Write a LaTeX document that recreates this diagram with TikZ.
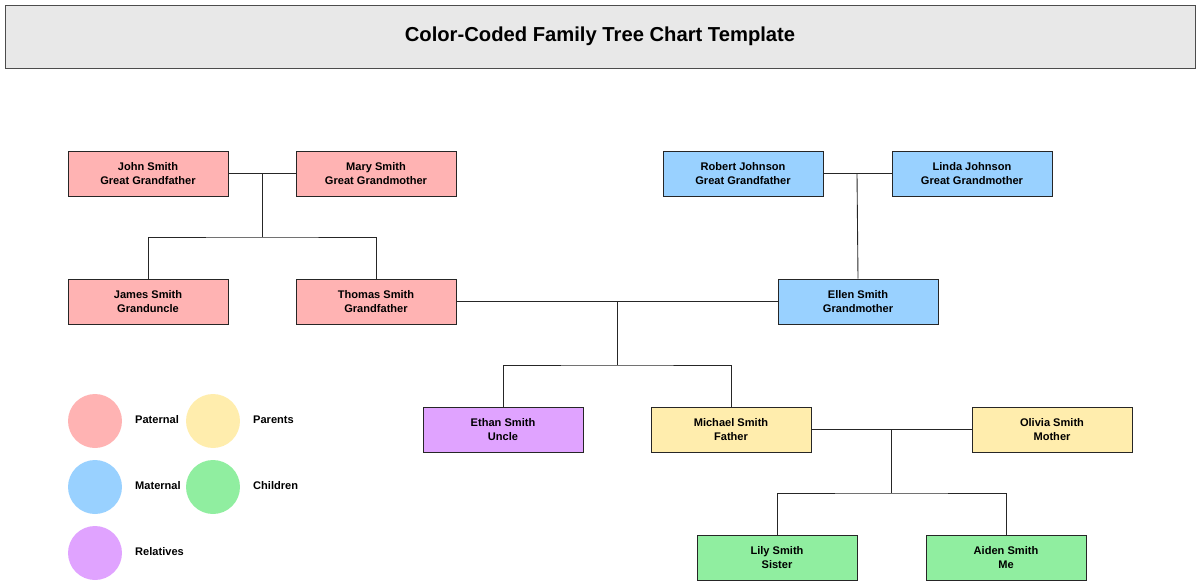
\documentclass[tikz,border=0pt]{standalone}
\usepackage{fontspec}
\setmainfont{Liberation Sans}
\definecolor{pat}{HTML}{FFB3B3}
\definecolor{mat}{HTML}{99D1FF}
\definecolor{rel}{HTML}{E0A3FF}
\definecolor{par}{HTML}{FFEDAD}
\definecolor{chi}{HTML}{90EEA0}
\definecolor{ttl}{HTML}{E8E8E8}
\begin{document}
\begin{tikzpicture}[x=0.02cm,y=-0.02cm,
  person/.style={draw=black!85,line width=0.5pt,minimum width=3.2cm,minimum height=0.9cm,align=center,font=\fontsize{6.3}{7.6}\selectfont\bfseries,inner sep=0pt},
  dot/.style={circle,minimum size=1.08cm,inner sep=0pt},
  lbl/.style={anchor=west,font=\fontsize{6.3}{7.6}\selectfont\bfseries},
  link/.style={draw=black!85,line width=0.5pt}]
\useasboundingbox (0,0) rectangle (1200,585);
\node[draw=black!70,fill=ttl,minimum width=23.8cm,minimum height=1.26cm,font=\fontsize{11.5}{13}\selectfont\bfseries,inner sep=0pt] (title) at (600,36.5) {Color-Coded Family Tree Chart Template};
\node[person,fill=pat] (john) at (148,173.5) {John Smith\\Great Grandfather};
\node[person,fill=pat] (mary) at (376,173.5) {Mary Smith\\Great Grandmother};
\node[person,fill=mat] (robert) at (743,173.5) {Robert Johnson\\Great Grandfather};
\node[person,fill=mat] (linda) at (972,173.5) {Linda Johnson\\Great Grandmother};
\node[person,fill=pat] (james) at (148,301.5) {James Smith\\Granduncle};
\node[person,fill=pat] (thomas) at (376,301.5) {Thomas Smith\\Grandfather};
\node[person,fill=mat] (ellen) at (858,301.5) {Ellen Smith\\Grandmother};
\node[person,fill=rel] (ethan) at (503,429.5) {Ethan Smith\\Uncle};
\node[person,fill=par] (michael) at (731,429.5) {Michael Smith\\Father};
\node[person,fill=par] (olivia) at (1052,429.5) {Olivia Smith\\Mother};
\node[person,fill=chi] (lily) at (777,557.5) {Lily Smith\\Sister};
\node[person,fill=chi] (aiden) at (1006,557.5) {Aiden Smith\\Me};
% junctions
\coordinate (j1) at (262,173.5); \coordinate (j1b) at (262,237);
\coordinate (j2) at (857,173.5);
\coordinate (j3) at (617,301.5); \coordinate (j3b) at (617,365);
\coordinate (j4) at (891,429.5); \coordinate (j4b) at (891,493);
\draw[link] (john) -- (mary);
\draw[link] (j1) -- (j1b);
\draw[link] (james.north) |- (j1b) -| (thomas.north);
\draw[link] (robert) -- (linda);
\draw[link] (j2) -- (ellen.north);
\draw[link] (thomas) -- (ellen);
\draw[link] (j3) -- (j3b);
\draw[link] (ethan.north) |- (j3b) -| (michael.north);
\draw[link] (michael) -- (olivia);
\draw[link] (j4) -- (j4b);
\draw[link] (lily.north) |- (j4b) -| (aiden.north);
% legend
\node[dot,fill=pat] (cp) at (95,421) {};
\node[dot,fill=par] (cpa) at (213,421) {};
\node[dot,fill=mat] (cm) at (95,487) {};
\node[dot,fill=chi] (cc) at (213,487) {};
\node[dot,fill=rel] (cr) at (95,553) {};
\node[lbl] (lp) at (129,420) {Paternal};
\node[lbl] (lpa) at (247,420) {Parents};
\node[lbl] (lm) at (129,486) {Maternal};
\node[lbl] (lc) at (247,486) {Children};
\node[lbl] (lr) at (129,552) {Relatives};
\end{tikzpicture}
\end{document}
